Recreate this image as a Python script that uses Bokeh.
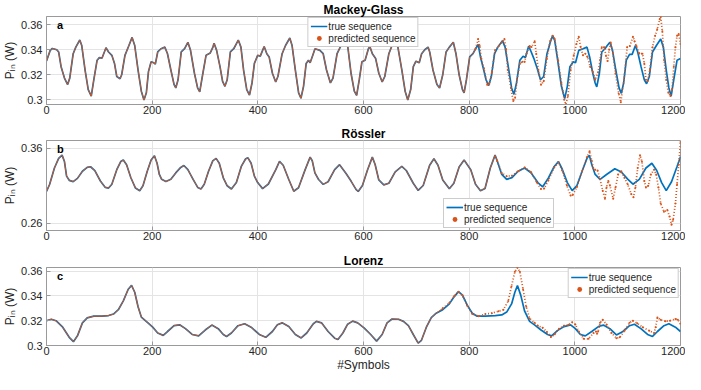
from bokeh.plotting import figure
from bokeh.layouts import column
from bokeh.models import FixedTicker, Legend, LegendItem, Label, Range1d, NumeralTickFormatter
from bokeh.embed import file_html
from bokeh.resources import INLINE

# ---------------- data ----------------
x_ticks = [0, 200, 400, 600, 800, 1000, 1200]

# Mackey-Glass, true sequence
mg_x = [0, 7, 11, 19.5, 23, 27.6, 34, 40, 44, 50.5, 55.5, 63, 66.7, 73, 79, 84.7, 89.6, 95.8, 100, 105,
        112.6, 117.5, 123.7, 128.7, 133, 139.2, 142.3, 148.5, 156, 162, 167, 173.3, 179.5, 184.5, 189, 193,
        198, 203, 206, 210.5, 216.7, 224, 229, 235.4, 241.5, 244.7, 249, 255, 261.4, 267.6, 272.6, 280, 286,
        290, 296, 302, 310, 315, 317.2, 322, 328.4, 333.3, 337.7, 342, 348, 354.4, 363, 368, 373, 379, 384.2,
        389, 393.5, 399.7, 404.7, 409, 412, 417, 421.4, 427.6, 433.8, 438, 446, 452.4, 460.5, 464.8, 471,
        477.2, 481.6, 486.5, 491.5, 495.8, 499, 504, 508.2, 517.5, 523.7, 530, 537.4, 542.3, 550, 556, 564,
        570, 576.4, 582.6, 587, 592, 597, 603, 609.3, 612, 616.8, 623, 629, 635.4, 640.3, 648, 654, 660,
        663, 672.6, 678.8, 683.8, 689.3, 694.3, 699.3, 705.5, 710, 716, 722.2, 725.3, 731.5, 739, 744, 750,
        756.3, 762.5, 770, 775, 781, 787.3, 790.4, 794.8, 801, 807.2, 812.2, 817.1, 821.4, 827.6, 832, 837,
        842, 848, 854.3, 863, 868, 874,
        880.3, 884.7, 889.6, 896, 902, 906.4, 912.6, 917.5, 922.5, 928.7, 935, 941, 947.3, 953.5, 958, 962,
        968.4, 974.6, 980.8, 985.8, 990.7, 997, 1001.3, 1007.4, 1015.5, 1023, 1028, 1034, 1038.5, 1041.5,
        1046.5, 1051, 1057, 1061.4, 1066.4, 1071.3, 1077.5, 1083.7, 1088, 1092.4, 1097.4, 1103.6, 1108.5,
        1114.7, 1119, 1125.3, 1131.5, 1135.8, 1141, 1147, 1154.4, 1162.5, 1167.5, 1173, 1178, 1182.3, 1187.3,
        1193.5, 1200]
mg_true = [0.331, 0.3396, 0.3411, 0.3401, 0.3383, 0.3265, 0.3173, 0.3121, 0.3173, 0.3369, 0.3422, 0.3479,
           0.3435, 0.3238, 0.3081, 0.3029, 0.316, 0.3317, 0.3338, 0.3333, 0.3417, 0.3383, 0.3356, 0.3291,
           0.3186, 0.3168, 0.320, 0.3356, 0.3435, 0.350, 0.3435, 0.3238, 0.3068, 0.2997, 0.3055, 0.3225,
           0.3304, 0.3296, 0.3286, 0.3383, 0.3409, 0.3422, 0.3369, 0.3238, 0.3121, 0.3094, 0.316, 0.3383,
           0.3409, 0.3461, 0.3396, 0.3212, 0.3094, 0.3063, 0.3212, 0.3356, 0.3375, 0.3422, 0.3453, 0.3396,
           0.3265, 0.3147, 0.3107, 0.316, 0.3383, 0.3409, 0.3479, 0.3422, 0.3238, 0.3081, 0.3037, 0.3134,
           0.3291, 0.3356, 0.3350, 0.3396, 0.3427, 0.3369, 0.3343, 0.3212, 0.3142, 0.3186, 0.3369, 0.3435,
           0.3495, 0.3435, 0.3238, 0.3055, 0.3011, 0.3107, 0.3291, 0.3317, 0.3296, 0.3356, 0.3409, 0.3396,
           0.3369, 0.3238, 0.3134, 0.3173, 0.3369, 0.3422, 0.3515, 0.3435, 0.3212, 0.3068, 0.3034, 0.316,
           0.3304, 0.3317, 0.3409, 0.3427, 0.3369, 0.333, 0.3212, 0.3142, 0.3186, 0.3369, 0.3435, 0.351,
           0.3474, 0.3238, 0.3068, 0.2997, 0.3081, 0.3265, 0.3309, 0.3296, 0.3369, 0.3401, 0.3422, 0.3383,
           0.3238, 0.3121, 0.3094, 0.320, 0.3383, 0.3422, 0.3461, 0.3369, 0.320, 0.3081, 0.3055, 0.316,
           0.3343, 0.3369, 0.3409, 0.3443, 0.3343, 0.3238, 0.316, 0.3113,
           0.3186, 0.3369, 0.3422, 0.3474, 0.3422, 0.3265, 0.3094, 0.3042, 0.3134,
           0.3317, 0.3348, 0.3338, 0.343, 0.3383, 0.333, 0.3252, 0.316, 0.3186, 0.3369, 0.3461, 0.3514,
           0.3474, 0.3291, 0.3107, 0.3008, 0.3107, 0.3265, 0.3304, 0.3296, 0.3396, 0.3409, 0.3422, 0.3343,
           0.3212, 0.3134, 0.3102, 0.3212, 0.3383, 0.3409, 0.3435, 0.3461, 0.3396, 0.3238, 0.3094, 0.305,
           0.3134, 0.3317, 0.3364, 0.3364, 0.3435, 0.3383, 0.3265, 0.316, 0.3128, 0.3186, 0.3383, 0.3435,
           0.3487, 0.3422, 0.3238, 0.3094, 0.3029, 0.316, 0.3317, 0.333]
# Mackey-Glass, predicted sequence where it departs from the true one (x >= 812)
mg_pred_tail_x = [812.2, 817, 820, 823, 828, 834, 838, 843, 849, 856, 862, 866.7, 870, 873, 879,
                  883.4, 887, 890.5, 896, 901, 905, 908.5, 914.5, 918, 924, 927, 931, 936, 941, 947, 953.5,
                  958, 962, 968.4, 974.6, 980, 983, 987, 992, 998, 1003, 1007.4, 1011, 1015.5, 1020, 1024,
                  1029, 1034, 1038.5, 1044, 1048, 1051, 1056, 1059, 1062, 1065, 1068, 1072, 1077, 1083,
                  1087, 1093, 1099, 1104, 1110, 1113, 1116.6, 1122, 1128, 1131.5, 1134.6, 1138, 1142, 1147,
                  1152, 1156, 1160.6, 1162.5, 1165.6, 1169, 1173, 1177, 1181, 1184, 1187.3, 1190.4, 1193.5,
                  1196.6, 1200]
mg_pred_tail = [0.341, 0.3487, 0.343, 0.333, 0.325, 0.312, 0.3125, 0.322, 0.3396, 0.343,
                0.3461, 0.3487, 0.340, 0.3238, 0.3094, 0.2990, 0.3015, 0.316, 0.329, 0.3304, 0.3304, 0.3369,
                0.343, 0.3422, 0.347, 0.3369, 0.3238, 0.312, 0.3147, 0.333, 0.3474, 0.3514, 0.3487, 0.3317,
                0.3134, 0.300, 0.2962, 0.3029, 0.3238, 0.3356, 0.3448, 0.3506, 0.3422, 0.3356, 0.3369,
                0.3343, 0.3265, 0.3225, 0.316, 0.322, 0.332, 0.342, 0.342, 0.335, 0.331, 0.340, 0.346, 0.337,
                0.321, 0.305, 0.298, 0.316, 0.342, 0.343, 0.3506, 0.347, 0.343, 0.337, 0.3369, 0.329, 0.316,
                0.315, 0.3238, 0.342, 0.3514, 0.3566, 0.3645, 0.3667, 0.355, 0.3317, 0.316, 0.3055, 0.3029,
                0.3081, 0.3265, 0.342, 0.3514, 0.3527, 0.3448]

# Rossler, true sequence
ro_x = [0, 6, 15, 23, 29.5, 34, 38, 43, 50.5, 58.6, 68, 77, 83.4, 91.5, 102, 111.3, 117.5, 123.7, 133,
        140.5, 145.4, 151.6, 159.7, 168.4, 176.4, 182.6, 190.7, 198, 204.3, 209.3, 213.6, 218, 226, 235.4,
        244.6, 254, 260, 267.6, 277.5, 286.2, 292.4, 298.6, 306.7, 314.7, 321, 327, 334.6, 342, 350, 359.4,
        368.7, 376.7, 381, 387.3, 393.5, 399.7, 409, 420, 434, 441, 448, 458.6, 468, 477, 489.6, 499, 503,
        508, 515, 523.7, 533, 545.4, 554.7, 567, 576.4, 585.8, 590, 598, 607.4, 616.7, 622, 629, 638.4, 648,
        660, 672.5, 681, 694.2, 703.5, 713, 725.2, 733.3, 741, 750, 762.5, 771, 781, 790.4, 803, 812, 821.4,
        830, 840, 849, 853, 861.7, 871, 881, 892.7, 905, 917, 930, 939.2, 950, 961, 969, 976, 985.8, 995,
        1004, 1013.7, 1023, 1027.3, 1032, 1038.5, 1047.8, 1060, 1075.7, 1088, 1100.5, 1110, 1122, 1134.6,
        1145.8, 1155, 1164.3, 1173, 1183, 1193.5, 1200]
ro_true = [0.302, 0.3117, 0.3333, 0.3462, 0.3505, 0.3419, 0.3225, 0.3169, 0.3152, 0.3195, 0.329, 0.3341,
           0.335, 0.3298, 0.316, 0.3074, 0.3066, 0.3117, 0.3311, 0.3419, 0.3441, 0.3376, 0.3203, 0.3066,
           0.3031, 0.3096, 0.329, 0.3441, 0.3497, 0.3397, 0.3247, 0.3182, 0.3152, 0.3182, 0.3268, 0.3341,
           0.3367, 0.3311, 0.3182, 0.3074, 0.3053, 0.3117, 0.329, 0.3428, 0.3462, 0.3397, 0.3203, 0.3096,
           0.3053, 0.3139, 0.3354, 0.3453, 0.3471, 0.3397, 0.3225, 0.3139, 0.3058, 0.312, 0.3312, 0.3421,
           0.337, 0.318, 0.3023, 0.307, 0.3312, 0.3478, 0.343, 0.3268, 0.318, 0.3115, 0.315, 0.3312, 0.3377,
           0.326, 0.3159, 0.3049, 0.302, 0.310, 0.3304, 0.3478, 0.338, 0.3174, 0.3108, 0.313, 0.3282, 0.3356,
           0.330, 0.313, 0.3034, 0.310, 0.337, 0.3456, 0.337, 0.3174, 0.3056, 0.313, 0.3348, 0.344, 0.331,
           0.3117, 0.3031, 0.306, 0.3333, 0.3505, 0.343, 0.3247, 0.3182, 0.3205, 0.329, 0.3333, 0.327, 0.3139,
           0.3083, 0.320, 0.3354, 0.3419, 0.332, 0.3139, 0.3031, 0.310, 0.329, 0.3462, 0.3505, 0.338, 0.3247,
           0.3182, 0.3247, 0.3324, 0.328, 0.3182, 0.3117, 0.3182, 0.3333, 0.3397, 0.330, 0.3139, 0.3031,
           0.315, 0.3354, 0.3484]
ro_pred_tail_x = [853, 861.7, 871, 881, 892.7, 905, 917, 928, 936, 942, 950, 961, 969, 976, 985, 992, 996,
                  1004, 1013.7, 1023, 1028, 1032, 1035, 1038.5, 1043, 1047.8, 1052.7, 1057, 1060, 1063.3,
                  1066.4, 1072.6, 1077, 1082, 1088, 1094, 1100, 1106.7, 1111, 1114.7, 1119, 1123.4, 1127,
                  1131.5, 1134.6, 1139, 1143.9, 1150, 1154, 1158.2, 1162.5, 1168.7, 1175, 1179.3, 1183,
                  1186, 1190.4, 1193.5, 1196.6, 1200]
ro_pred_tail = [0.343, 0.3265, 0.3225, 0.323, 0.329, 0.334, 0.328, 0.314, 0.3055, 0.306, 0.317, 0.334,
                0.341, 0.330, 0.310, 0.2966, 0.2975, 0.308, 0.329, 0.348, 0.3557, 0.343, 0.333, 0.331, 0.330,
                0.3182, 0.3031, 0.2923, 0.3074, 0.316, 0.310, 0.2923, 0.3074, 0.3247, 0.329, 0.3203, 0.3117,
                0.2988, 0.2945, 0.3074, 0.3333, 0.3505, 0.3419, 0.316, 0.3074, 0.3096, 0.3247, 0.3311,
                0.3247, 0.3074, 0.2859, 0.2751, 0.2773, 0.2686, 0.2578, 0.2643, 0.2859, 0.3117, 0.3376, 0.368]

# Lorenz, true sequence
lo_x = [0, 9, 18, 30.7, 43, 51, 58.6, 68, 77, 89.6, 105, 117.5, 126.8, 136, 145.4, 154.7, 161, 167, 173.3,
        179.5, 192, 201, 210.5, 221, 229, 241.5, 252, 263, 275.7, 288, 300.4, 313, 325, 334.6, 340.8, 350,
        362.5, 375, 387.3, 402.8, 415, 427.6, 437, 446, 458.6, 471, 482, 492.6, 505, 511, 520.5, 533, 545.4,
        551.6, 561, 570, 579.5, 589, 601, 613.6, 624.8, 635.3, 644.6, 654, 666.3, 675.6, 685, 694.2, 703.5,
        709.7, 719, 728.3, 737.6, 750, 762.5, 771.8, 779.8, 787.3, 796.6, 805.9, 815.2, 830.7, 849.3, 861.7,
        871, 880.3, 886.5, 891.4, 897.6, 905, 914.4, 923.7, 936, 948.5, 956, 967, 979.5, 992, 1001, 1010.5,
        1019.8, 1032, 1044.6, 1054, 1066.3, 1078.7, 1091, 1103.5, 1112.8, 1125, 1137.7, 1147, 1156.3, 1168.7,
        1178, 1190.4, 1200]
lo_true = [0.320, 0.3212, 0.320, 0.3148, 0.3066, 0.3031, 0.3078, 0.3183, 0.3223, 0.3237, 0.3237, 0.3242,
           0.3254, 0.3289, 0.336, 0.3454, 0.3486, 0.343, 0.3313, 0.323, 0.3183, 0.3148, 0.3101, 0.3082,
           0.3113, 0.316, 0.3167, 0.3136, 0.3089, 0.3078, 0.3125, 0.3165, 0.3136, 0.3089, 0.3073, 0.3101,
           0.316, 0.3176, 0.3148, 0.3089, 0.3066, 0.3113, 0.3167, 0.3183, 0.3153, 0.3089, 0.3061, 0.3101,
           0.3176, 0.3195, 0.3183, 0.3113, 0.3059, 0.3049, 0.3101, 0.3172, 0.3197, 0.3183, 0.3143, 0.3089,
           0.3035, 0.3089, 0.3183, 0.3214, 0.3212, 0.3195, 0.316, 0.3089, 0.3019, 0.3042, 0.3148, 0.3226,
           0.3261, 0.3289, 0.3336, 0.3395, 0.3435, 0.3407, 0.3324, 0.3261, 0.3237, 0.3237, 0.3242, 0.3247,
           0.327, 0.3336, 0.343, 0.3484, 0.3407, 0.3277, 0.3195, 0.3167, 0.3125, 0.3089, 0.3078, 0.312,
           0.3153, 0.3167, 0.3136, 0.3089, 0.3078, 0.3113, 0.3153, 0.3165, 0.3136, 0.3085, 0.3113, 0.316,
           0.3172, 0.3136, 0.3089, 0.3073, 0.3113, 0.316, 0.3176, 0.3148, 0.3113]
lo_pred_tail_x = [750, 762.5, 771.8, 779.8, 787.3, 796.6, 805.9, 818, 830.7, 843, 855.5, 864.8, 874, 880,
                  886.5, 891.4, 896, 902, 908, 914.4, 923.7, 930, 939, 947, 954.7, 962, 970.2, 979.5, 988,
                  995, 1001, 1007.4, 1016.7, 1026, 1035.3, 1040, 1042, 1044, 1047.7, 1052.7, 1060, 1069.4,
                  1078.7, 1085, 1094, 1103.5, 1109.7, 1118, 1128.4, 1140.8, 1150, 1153, 1156.3, 1162.5,
                  1171.8, 1180, 1190.4, 1195, 1200]
lo_pred_tail = [0.330, 0.3345, 0.340, 0.3435, 0.3405, 0.332, 0.3255, 0.3237, 0.3254, 0.3261, 0.3277, 0.3289,
                0.336, 0.3477, 0.3595, 0.3628, 0.3595, 0.3454, 0.3313, 0.3219, 0.3183, 0.316, 0.3143, 0.311,
                0.3068, 0.309, 0.3136, 0.316, 0.3167, 0.3187, 0.317, 0.3113, 0.3054, 0.3054, 0.3101, 0.3113,
                0.3095, 0.3113, 0.3183, 0.3207, 0.317, 0.3101, 0.3059, 0.3066, 0.312, 0.3183, 0.320, 0.318,
                0.3148, 0.312, 0.3101, 0.3148, 0.3226, 0.3207, 0.3195, 0.320, 0.3214, 0.3207, 0.3176]

# ---------------- styling ----------------
FONT = "Liberation Sans"
BLUE = "#0072BD"
ORANGE = "#D95319"
AX = "#9a9a9a"
TXT = "#262626"
W = 685


def predicted(xs, ys, tail_x, tail_y):
    start = tail_x[0]
    head_x = [x for x in xs if x < start]
    head_y = [y for x, y in zip(xs, ys) if x < start]
    return head_x + tail_x, head_y + tail_y, len(head_x)


def panel(title, letter, xs, ys, pred, yr, yticks, height, top, fh, bottom, legend_loc,
          legend_margin=0, xlabel=None):
    pxs, pys, k = pred
    p = figure(width=W, height=height, x_range=Range1d(0, 1200), y_range=Range1d(*yr),
               output_backend="svg", toolbar_location=None,
               min_border_left=36, min_border_right=5, min_border_top=top,
               min_border_bottom=bottom)
    p.title.text = title
    p.title.align = "center"
    p.title.text_font = FONT
    p.title.text_font_size = "12px"
    p.title.text_font_style = "bold"
    p.title.text_color = "black"
    p.title.standoff = 0
    p.background_fill_color = "white"
    p.border_fill_color = "white"
    p.outline_line_color = AX
    p.outline_line_width = 1
    per = (yr[1] - yr[0]) / fh

    for ax in (p.xaxis[0], p.yaxis[0]):
        ax.major_tick_in = 4
        ax.major_tick_out = 0
        ax.minor_tick_line_color = None
        ax.axis_line_color = AX
        ax.major_tick_line_color = AX
        ax.major_label_text_font = FONT
        ax.major_label_text_font_size = "11px"
        ax.major_label_text_color = TXT
        ax.axis_label_text_font = FONT
        ax.axis_label_text_font_style = "normal"
        ax.axis_label_text_color = TXT
    p.xaxis.ticker = FixedTicker(ticks=x_ticks)
    p.xaxis.major_label_standoff = 1
    p.yaxis.ticker = FixedTicker(ticks=yticks)
    p.yaxis.formatter = NumeralTickFormatter(format="0.[00]")
    p.yaxis.major_label_standoff = 4
    p.yaxis.axis_label = "Pᵢₙ (W)"
    p.yaxis.axis_label_text_font_size = "12px"
    p.yaxis.axis_label_standoff = 1
    if xlabel:
        p.xaxis.axis_label = xlabel
        p.xaxis.axis_label_text_font_size = "12px"
        p.xaxis.axis_label_standoff = 0
    else:
        p.xaxis.axis_label = None
    p.xgrid.grid_line_color = "#e4e4e4"
    p.ygrid.grid_line_color = "#e4e4e4"

    r_true = p.line(xs, ys, line_color=BLUE, line_width=1.7)
    # where the prediction follows the true sequence it covers it
    p.line(pxs[:k + 1], pys[:k + 1], line_color=ORANGE, line_width=1.0)
    # where it departs, it is drawn as dots
    p.line(pxs[k:], pys[k:], line_color=ORANGE, line_width=1.7, line_dash="1 2")
    r_dot = p.scatter(pxs[k:], pys[k:], marker="circle", size=2, fill_color=ORANGE, line_color=None)

    legend = Legend(items=[LegendItem(label="true sequence", renderers=[r_true]),
                           LegendItem(label="predicted sequence", renderers=[r_dot])],
                    location=legend_loc, margin=legend_margin, padding=2, spacing=0,
                    glyph_width=17, glyph_height=12, label_height=12, label_standoff=1,
                    label_text_font=FONT, label_text_font_size="10px", label_text_color=TXT,
                    border_line_color=AX, border_line_width=1, background_fill_color="white",
                    background_fill_alpha=1)
    p.add_layout(legend)

    p.add_layout(Label(x=20, y=yr[1] - 8.5 * per, text=letter, text_font=FONT,
                       text_font_size="11px", text_font_style="bold", text_color="black",
                       text_align="left", text_baseline="middle"))
    return p


pa = panel("Mackey-Glass", "a", mg_x, mg_true, predicted(mg_x, mg_true, mg_pred_tail_x, mg_pred_tail),
           (0.2961, 0.3668), [0.30, 0.32, 0.34, 0.36], 124, 8, 89, 20, "top_center", legend_margin=1)
pb = panel("Rössler", "b", ro_x, ro_true, predicted(ro_x, ro_true, ro_pred_tail_x, ro_pred_tail),
           (0.25, 0.37), [0.26, 0.36], 127, 8, 91, 21, (397, 2))
pc = panel("Lorenz", "c", lo_x, lo_true, predicted(lo_x, lo_true, lo_pred_tail_x, lo_pred_tail),
           (0.30, 0.363), [0.30, 0.32, 0.34, 0.36], 123, 8, 80, 12, "top_right", legend_margin=1,
           xlabel="#Symbols")

layout = column(pa, pb, pc, spacing=0)
open("out.html", "w").write(file_html(layout, INLINE))
